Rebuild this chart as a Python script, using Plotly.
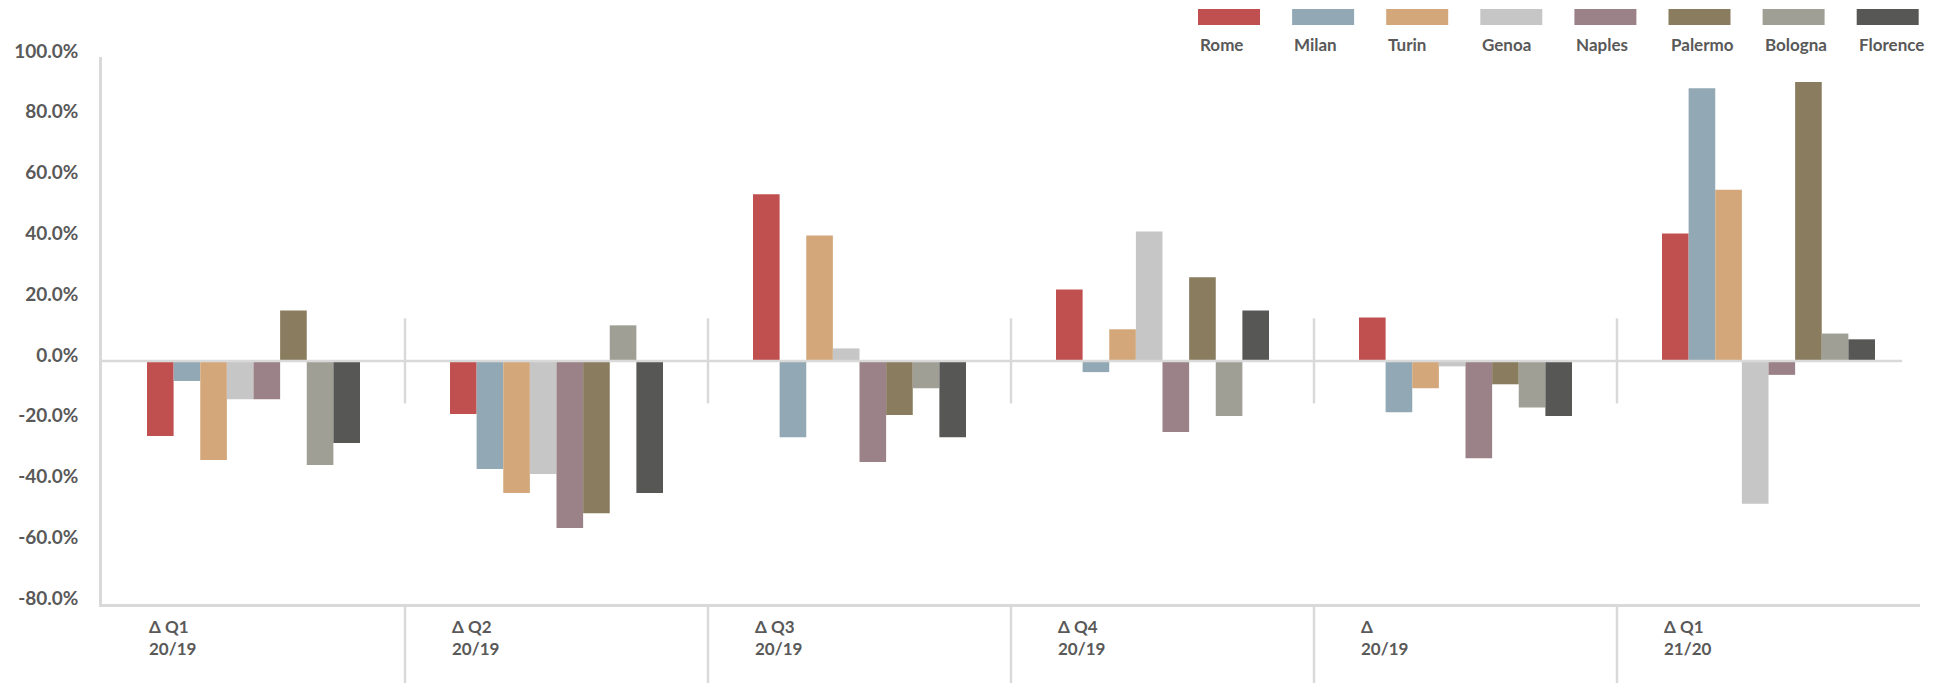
import plotly.graph_objects as go

# Period labels (two lines each) and year-over-year changes in percent per city
periods = ["Δ Q1<br>20/19", "Δ Q2<br>20/19", "Δ Q3<br>20/19", "Δ Q4<br>20/19", "Δ<br>20/19", "Δ Q1<br>21/20"]
cities = ["Rome", "Milan", "Turin", "Genoa", "Naples", "Palermo", "Bologna", "Florence"]
colors = ["#C0504F", "#93A8B5", "#D3A77A", "#C6C6C6", "#9A8288", "#897C5F", "#A09F96", "#575756"]

rome = [-24.7, -17.5, 54.8, 23.5, 14.3, 41.9]
milan = [-6.6, -35.6, -25.1, -3.7, -16.9, 89.7]
turin = [-32.6, -43.5, 41.3, 10.4, -9.0, 56.3]
genoa = [-12.6, -37.2, 4.1, 42.6, -1.8, -47.0]
naples = [-12.6, -55.0, -33.3, -23.4, -32.0, -4.6]
palermo = [16.6, -50.1, -17.8, 27.5, -7.7, 91.8]
bologna = [-34.3, 11.7, -9.0, -18.1, -15.3, 9.0]
florence = [-27.0, -43.5, -25.1, 16.6, -18.1, 7.1]

y_ticks = [-80, -60, -40, -20, 0, 20, 40, 60, 80, 100]
y_tick_text = [f"{v:.1f}%" for v in y_ticks]

series = [rome, milan, turin, genoa, naples, palermo, bologna, florence]

W, H = 1939, 683
ML, MR, MT, MB = 102, 19, 57, 79
PW, PH = W - ML - MR, H - MT - MB
BARGAP = 0.297
TEXT = "#595959"
LINE = "#D9D9D9"
FONT = "Lato"

x_idx = list(range(len(periods)))

fig = go.Figure()
for name, vals, col in zip(cities, series, colors):
    fig.add_trace(go.Bar(
        x=x_idx, y=vals, name=name,
        marker=dict(color=col, line=dict(width=0)),
        showlegend=False,
    ))


def px_x(px):
    return (px - ML) / PW


def px_y(py):
    return (H - MB - py) / PH


shapes = []
annotations = []

# Zero baseline, drawn over the bars and stopping short of the right edge
shapes.append(dict(type="line", xref="paper", yref="y", x0=0, x1=px_x(1902), y0=0, y1=0,
                   line=dict(color=LINE, width=2.5), layer="above"))

# Separators between periods: short marks across the zero line and full-height marks below the axis
for i in range(len(periods) - 1):
    xb = i + 0.5
    shapes.append(dict(type="line", xref="x", yref="y", x0=xb, x1=xb, y0=-14, y1=14,
                       line=dict(color=LINE, width=2.5), layer="above"))
    shapes.append(dict(type="line", xref="x", yref="paper", x0=xb, x1=xb, y0=0, y1=-MB / PH,
                       line=dict(color=LINE, width=2.5), layer="above"))

# Period labels, left-aligned to the start of each bar group
half_group = (1 - BARGAP) / 2
for i, lab in enumerate(periods):
    annotations.append(dict(
        x=i - half_group, xref="x", y=px_y(637), yref="paper",
        text=lab, showarrow=False, xanchor="left", yanchor="middle", align="left",
        font=dict(family=FONT, size=17, color=TEXT, weight=700),
    ))

# Legend: colour swatch with the city name underneath
LEG_X0, LEG_STEP, SW_W = 1198, 94.1, 62
for k, (name, col) in enumerate(zip(cities, colors)):
    x0 = LEG_X0 + k * LEG_STEP
    shapes.append(dict(type="rect", xref="paper", yref="paper",
                       x0=px_x(x0), x1=px_x(x0 + SW_W), y0=px_y(25), y1=px_y(9),
                       fillcolor=col, line=dict(width=0)))
    annotations.append(dict(
        x=px_x(x0), xref="paper", y=px_y(45), yref="paper",
        text=name, showarrow=False, xanchor="left", yanchor="middle",
        font=dict(family=FONT, size=17, color=TEXT, weight=700),
    ))

fig.update_layout(
    width=W, height=H,
    margin=dict(l=ML, r=MR, t=MT, b=MB, pad=0),
    paper_bgcolor="white", plot_bgcolor="white",
    barmode="group", bargap=BARGAP, bargroupgap=0,
    font=dict(family=FONT, size=18, color=TEXT, weight=700),
    shapes=shapes, annotations=annotations,
    showlegend=False,
    xaxis=dict(range=[-0.5, len(periods) - 0.5], showgrid=False, zeroline=False,
               showline=True, linecolor=LINE, linewidth=2.5, showticklabels=False,
               ticks="", fixedrange=True),
    yaxis=dict(range=[-80, 100], tickvals=y_ticks, ticktext=y_tick_text,
               showgrid=False, zeroline=False,
               showline=True, linecolor=LINE, linewidth=2.5, ticks="",
               ticklabelstandoff=17, ticklabelshift=-6,
               tickfont=dict(family=FONT, size=19, color=TEXT, weight=700)),
)

fig.write_html("out.html")
